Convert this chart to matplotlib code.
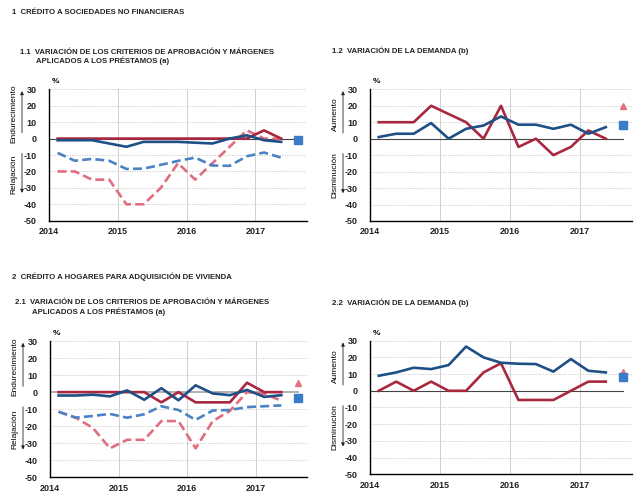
import matplotlib
matplotlib.use('Agg')
import matplotlib.pyplot as plt
import numpy as np

plt.rcParams['font.family'] = ['Liberation Sans', 'DejaVu Sans']

# Fechas de las encuestas (año-mes), trimestrales
fechas = ['2014-02', '2014-05', '2014-08', '2014-11', '2015-02', '2015-05', '2015-08',
          '2015-11', '2016-02', '2016-05', '2016-08', '2016-11', '2017-02', '2017-05']
fecha_prev = '2017-08'

# 1.1 Sociedades no financieras: criterios de aprobación
sf_esp_crit = [0, 0, 0, 0, 0, 0, 0, 0, 0, 0, 0, 0, 5, 0]
sf_uem_crit = [-1, -1, -1, -3, -5, -2, -2, -2, -2.5, -3, 0, 2, -1, -2]
sf_uem_marg = [-8.7, -13.5, -12.4, -13.5, -18.5, -18.3, -16, -13.6, -11.6, -16.4, -16.6, -10.8, -8.5, -11.6]
sf_esp_marg = [-20, -20, -25, -25, -40, -40, -30, -15, -25, -15, -5, 5, 0, 0]
sf_prev_uem = -1

# 1.2 Sociedades no financieras: demanda
sf_esp_dem = [10, 10, 10, 20, 15, 10, 0, 20, -5, 0, -10, -5, 5, 0]
sf_uem_dem = [1, 3, 3, 9.5, 0, 6, 8, 13.5, 8.5, 8.5, 6, 8.5, 3, 7]
sf_prev_esp_dem = 20
sf_prev_uem_dem = 8.5

# 2.1 Hogares vivienda: criterios de aprobación
hv_esp_crit = [0, 0, 0, 0, 0, 0, -6, 0, -6, -6, -6, 5.5, 0, 0]
hv_uem_crit = [-2, -2, -1.5, -2.5, 1, -4.5, 2.3, -4.8, 4, -0.8, -1.8, 1.3, -2.8, -1.8]
hv_uem_marg = [-11.5, -15, -14, -12.8, -15, -13, -8.3, -10.5, -16.3, -10.8, -10.5, -8.8, -8.3, -7.8]
hv_esp_marg = [-11.5, -15, -21, -33, -28, -28, -17, -17, -33, -17, -11, 0, -1, -5]
hv_prev_esp = 5.5
hv_prev_uem = -3.5

# 2.2 Hogares vivienda: demanda
hv_esp_dem = [0, 5.5, 0, 5.5, 0, 0, 11, 16.5, -5.5, -5.5, -5.5, 0, 5.5, 5.5]
hv_uem_dem = [9, 11, 13.8, 13, 15.4, 26.5, 20, 16.8, 16.2, 16, 11.5, 19, 12, 11]
hv_prev_esp_dem = 11
hv_prev_uem_dem = 8

yticks = [30, 20, 10, 0, -10, -20, -30, -40, -50]
years = [2014, 2015, 2016, 2017]

c_red = '#a8283f'
c_blue = '#1e4f85'
c_lblue = '#4a82c3'
c_pink = '#e06d80'
c_sq = '#3b7cc8'
c_tri = '#e4707f'


def a_num(f):
    y, m = f.split('-')
    return int(y) + (int(m) - 0.5) / 12


x = np.array([a_num(f) for f in fechas])
x_prev = a_num(fecha_prev)

W, H = 641, 503
fig = plt.figure(figsize=(W / 100, H / 100), dpi=100)


def make_ax(left, right, top, bottom):
    ax = fig.add_axes([left / W, 1 - bottom / H, (right - left) / W, (bottom - top) / H])
    ax.set_xlim(2014, 2017.75)
    ax.set_ylim(-50, 30)
    ax.set_yticks(yticks)
    ax.set_yticklabels([str(t) for t in yticks])
    ax.set_xticks(years)
    ax.set_xticklabels([str(t) for t in years])
    ax.tick_params(length=0, labelsize=6.5, colors='#222222')
    ax.tick_params(axis='x', pad=4.5)
    ax.tick_params(axis='y', pad=9)
    for lab in ax.get_xticklabels() + ax.get_yticklabels():
        lab.set_fontweight('bold')
    ax.spines['top'].set_visible(False)
    ax.spines['right'].set_visible(False)
    ax.spines['left'].set_linewidth(1.0)
    ax.spines['bottom'].set_linewidth(1.0)
    for t in yticks:
        if t not in (0, -50):
            ax.axhline(t, color='#c8c8c8', lw=0.6, ls=(0, (1.5, 1.5)), zorder=0)
    for yr in years[1:]:
        ax.axvline(yr, color='#d0d0d0', lw=0.7, zorder=0)
    ax.text(0.01, 1.03, '%', transform=ax.transAxes, fontsize=6, fontweight='bold',
            ha='left', va='bottom')
    return ax


def side_labels(ax_x_px, top_px, bottom_px, up, down):
    # texto y flechas a la izquierda del eje
    zero_px = top_px + (bottom_px - top_px) * 30 / 80
    tx = (ax_x_px - 35) / W
    fx = (ax_x_px - 27) / W
    fig.text(tx, 1 - (top_px + zero_px) / 2 / H, up, rotation=90, fontsize=6,
             ha='center', va='center')
    fig.text(tx, 1 - (zero_px + 15 + bottom_px - 25) / 2 / H, down, rotation=90, fontsize=6,
             ha='center', va='center')
    fig.patches.append(matplotlib.patches.FancyArrowPatch(
        (fx, 1 - (zero_px - 3) / H), (fx, 1 - (top_px - 1) / H), transform=fig.transFigure,
        arrowstyle='-|>', mutation_scale=5, lw=0.6, color='#222222'))
    fig.patches.append(matplotlib.patches.FancyArrowPatch(
        (fx, 1 - (zero_px + 12) / H), (fx, 1 - (bottom_px - 25) / H), transform=fig.transFigure,
        arrowstyle='-|>', mutation_scale=5, lw=0.6, color='#222222'))


lw = 1.9
dash = (0, (3.4, 1.6))

# ---- 1.1
ax = make_ax(49, 307, 89.3, 220.7)
ax.axhline(0, xmax=(x_prev - 2014) / 3.75, color='#444444', lw=0.8, zorder=1)
ax.plot(x, sf_esp_marg, color=c_pink, lw=lw, ls=dash)
ax.plot(x, sf_uem_marg, color=c_lblue, lw=lw, ls=dash)
ax.plot(x, sf_esp_crit, color=c_red, lw=lw)
ax.plot(x, sf_uem_crit, color=c_blue, lw=lw)
ax.plot([x_prev], [sf_prev_uem], 's', color=c_sq, ms=5.5)
side_labels(49, 89.3, 220.7, 'Endurecimiento', 'Relajación')

# ---- 1.2
ax = make_ax(370, 632, 89.3, 221)
ax.axhline(0, xmax=(x_prev - 2014) / 3.75, color='#444444', lw=0.8, zorder=1)
ax.plot(x, sf_esp_dem, color=c_red, lw=lw)
ax.plot(x, sf_uem_dem, color=c_blue, lw=lw)
ax.plot([x_prev], [sf_prev_esp_dem], '^', color=c_tri, ms=5)
ax.plot([x_prev], [sf_prev_uem_dem], 's', color=c_sq, ms=5.5)
side_labels(370, 89.3, 221, 'Aumento', 'Disminución')

# ---- 2.1
ax = make_ax(50, 307, 341, 477.3)
ax.axhline(0, xmax=(x_prev - 2014) / 3.75, color='#b0b0b0', lw=1.4, zorder=1)
ax.plot(x, hv_esp_marg, color=c_pink, lw=lw, ls=dash)
ax.plot(x, hv_uem_marg, color=c_lblue, lw=lw, ls=dash)
ax.plot(x, hv_esp_crit, color=c_red, lw=lw)
ax.plot(x, hv_uem_crit, color=c_blue, lw=lw)
ax.plot([x_prev], [hv_prev_esp], '^', color=c_tri, ms=5)
ax.plot([x_prev], [hv_prev_uem], 's', color=c_sq, ms=5.5)
side_labels(50, 341, 477.3, 'Endurecimiento', 'Relajación')

# ---- 2.2
ax = make_ax(370, 632, 340.7, 474.3)
ax.axhline(0, xmax=(x_prev - 2014) / 3.75, color='#444444', lw=0.8, zorder=1)
ax.plot(x, hv_esp_dem, color=c_red, lw=lw)
ax.plot(x, hv_uem_dem, color=c_blue, lw=lw)
ax.plot([x_prev], [hv_prev_esp_dem], '^', color=c_tri, ms=5)
ax.plot([x_prev], [hv_prev_uem_dem], 's', color=c_sq, ms=5.5)
side_labels(370, 340.7, 474.3, 'Aumento', 'Disminución')

# Títulos
tkw = dict(fontsize=5.6, fontweight='bold', color='#222222', va='center', ha='left')
fig.text(12 / W, 1 - 13 / H, '1  CRÉDITO A SOCIEDADES NO FINANCIERAS', **tkw)
fig.text(20 / W, 1 - 52 / H, '1.1  VARIACIÓN DE LOS CRITERIOS DE APROBACIÓN Y MÁRGENES', **tkw)
fig.text(36 / W, 1 - 61 / H, 'APLICADOS A LOS PRÉSTAMOS (a)', **tkw)
fig.text(332 / W, 1 - 51 / H, '1.2  VARIACIÓN DE LA DEMANDA (b)', **tkw)
fig.text(12 / W, 1 - 277 / H, '2  CRÉDITO A HOGARES PARA ADQUISICIÓN DE VIVIENDA', **tkw)
fig.text(15 / W, 1 - 303 / H, '2.1  VARIACIÓN DE LOS CRITERIOS DE APROBACIÓN Y MÁRGENES', **tkw)
fig.text(32 / W, 1 - 312 / H, 'APLICADOS A LOS PRÉSTAMOS (a)', **tkw)
fig.text(332 / W, 1 - 302.7 / H, '2.2  VARIACIÓN DE LA DEMANDA (b)', **tkw)

fig.savefig('out.png', dpi=100)
